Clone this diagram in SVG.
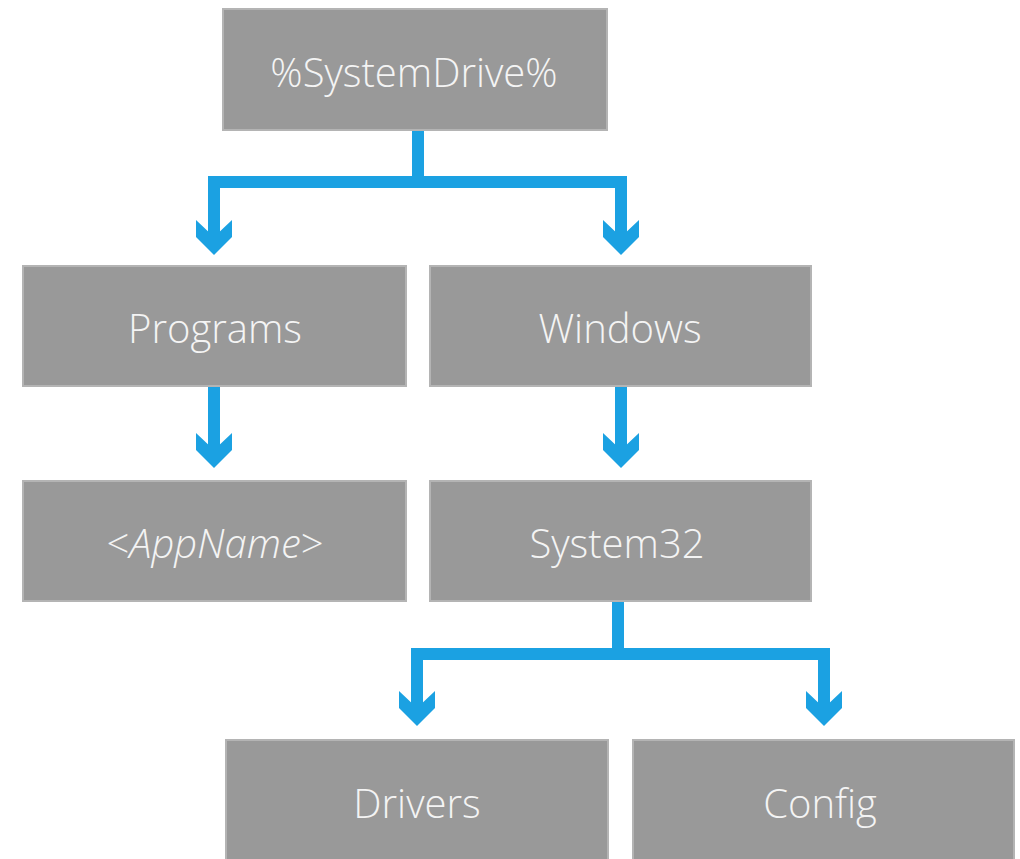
<svg xmlns="http://www.w3.org/2000/svg" width="1020" height="859" viewBox="0 0 1020 859">
<style>
.box{fill:#999999;stroke:#b4b4b4;stroke-width:2}
.lbl{font-family:"Segoe UI","Open Sans","Liberation Sans",sans-serif;font-weight:300;font-size:40px;fill:#f4f4f4;text-anchor:middle}
.ln{fill:none;stroke:#1ba1e2;stroke-width:12;stroke-linejoin:miter}
.ah{fill:#1ba1e2}
</style>
<defs>
<path id="head" d="M-18,0 L0,17 L18,0 L18,17 L0,35 L-18,17 Z"/>
</defs>
<rect width="1020" height="859" fill="#ffffff"/>
<g id="connectors">
<path class="ln" d="M418,131 V182 M214,182 H621 M214,176 V244 M621,176 V244"/>
<path class="ln" d="M214,387 V456 M621,387 V456"/>
<path class="ln" d="M618,602 V654 M417,654 H824 M417,648 V714 M824,648 V714"/>
<use href="#head" class="ah" x="214" y="220"/>
<use href="#head" class="ah" x="621" y="220"/>
<use href="#head" class="ah" x="214" y="433"/>
<use href="#head" class="ah" x="621" y="433"/>
<use href="#head" class="ah" x="417" y="691"/>
<use href="#head" class="ah" x="824" y="691"/>
</g>
<g id="n-systemdrive"><rect class="box" x="223" y="9" width="384" height="121"/><text class="lbl" x="414" y="87">%SystemDrive%</text></g>
<g id="n-programs"><rect class="box" x="23" y="266" width="383" height="120"/><text class="lbl" x="215" y="343">Programs</text></g>
<g id="n-windows"><rect class="box" x="430" y="266" width="381" height="120"/><text class="lbl" x="620" y="343">Windows</text></g>
<g id="n-appname"><rect class="box" x="23" y="481" width="383" height="120"/><text class="lbl" x="215" y="558">&lt;<tspan font-style="italic">AppName</tspan>&gt;</text></g>
<g id="n-system32"><rect class="box" x="430" y="481" width="381" height="120"/><text class="lbl" x="617" y="558">System32</text></g>
<g id="n-drivers"><rect class="box" x="226" y="740" width="382" height="130"/><text class="lbl" x="417" y="818">Drivers</text></g>
<g id="n-config"><rect class="box" x="633" y="740" width="381" height="130"/><text class="lbl" x="820" y="818">Config</text></g>
</svg>
